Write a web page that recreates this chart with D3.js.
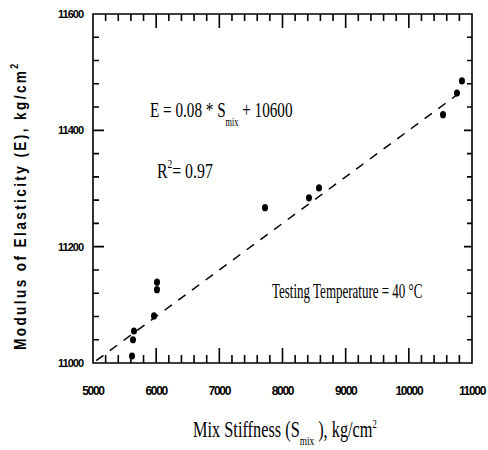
<!DOCTYPE html>
<html><head><meta charset="utf-8">
<script src="https://cdn.jsdelivr.net/npm/d3@7"></script>
<style>html,body{margin:0;padding:0;background:#fff}</style>
</head><body>
<svg id="c" width="488" height="450"></svg>
<script>
// Data
const stiffness = [5617, 5633, 5649, 5966, 6013, 6013, 7723, 8419, 8578, 10541, 10762, 10841];
const modulus   = [11012, 11040, 11055, 11081, 11126, 11139, 11267, 11284, 11301, 11427, 11464, 11485];
const xTicks = [5000, 6000, 7000, 8000, 9000, 10000, 11000];
const yTicks = [11000, 11200, 11400, 11600];
const fitSlope = 0.08, fitIntercept = 10600;
const fitRange = [5050, 10900];

const svg = d3.select("#c");
const x = d3.scaleLinear().domain([5000, 11000]).range([93, 472]);
const y = d3.scaleLinear().domain([11000, 11600]).range([363, 14]);

const xMinor = d3.range(5000, 11001, 200).filter(v => !xTicks.includes(v));
const yMinor = d3.range(11000, 11601, 40).filter(v => !yTicks.includes(v));

const X0 = x.range()[0], X1 = x.range()[1], Y0 = y.range()[0], Y1 = y.range()[1];

// frame and all inward ticks as one path
const p = d3.path();
p.rect(X0, Y1, X1 - X0, Y0 - Y1);
function addTicks(vals, horiz, base, len){
  vals.forEach(d => {
    if (horiz) { const px = x(d); p.moveTo(px, base); p.lineTo(px, base + len); }
    else { const py = y(d); p.moveTo(base, py); p.lineTo(base + len, py); }
  });
}
addTicks(xTicks, true, Y0, -15);
addTicks(xMinor, true, Y0, -8);
addTicks(xTicks, true, Y1, 14);
addTicks(xMinor, true, Y1, 7);
addTicks(yTicks, false, X0, 11);
addTicks(yMinor, false, X0, 6);
addTicks(yTicks, false, X1, -8);
addTicks(yMinor, false, X1, -5);
svg.append("path").attr("d", p.toString()).attr("fill","none")
  .attr("stroke","#000").attr("stroke-width",1.6);

// tick labels
svg.append("g").selectAll("text").data(xTicks).join("text")
  .attr("x", d => x(d)).attr("y", 395).attr("text-anchor","middle")
  .attr("font-family","Liberation Sans").attr("font-weight","bold").attr("font-size",12).attr("letter-spacing",-1.3)
  .text(d => d3.format("d")(d));
svg.append("g").selectAll("text").data(yTicks).join("text")
  .attr("x", 83).attr("y", d => y(d)+4).attr("text-anchor","end")
  .attr("font-family","Liberation Sans").attr("font-weight","bold").attr("font-size",11).attr("letter-spacing",-1)
  .text(d => d3.format("d")(d));

// fit line
svg.append("line")
  .attr("x1",x(fitRange[0])).attr("y1",y(fitSlope*fitRange[0]+fitIntercept))
  .attr("x2",x(fitRange[1])).attr("y2",y(fitSlope*fitRange[1]+fitIntercept))
  .attr("stroke","#000").attr("stroke-width",1.5).attr("stroke-dasharray","9,8");

// points
svg.append("g").selectAll("ellipse").data(stiffness).join("ellipse")
  .attr("cx",(d,i)=>x(d)).attr("cy",(d,i)=>y(modulus[i])).attr("rx",3).attr("ry",3.6).attr("fill","#000");

// annotations
const serif = "Liberation Serif";
const eq = svg.append("g").attr("transform","translate(150,117) scale(0.69,1)")
  .append("text").attr("font-family",serif).attr("font-size",22).attr("fill","#000");
eq.append("tspan").text("E = 0.08 * S");
eq.append("tspan").attr("font-size",12).attr("dy",9).text("mix");
eq.append("tspan").attr("dy",-9).text(" + 10600");

const r2 = svg.append("g").attr("transform","translate(157,178) scale(0.72,1)")
  .append("text").attr("font-family",serif).attr("font-size",22).attr("fill","#000");
r2.append("tspan").text("R");
r2.append("tspan").attr("font-size",13).attr("dy",-10).text("2");
r2.append("tspan").attr("dy",10).text("= 0.97");

svg.append("g").attr("transform","translate(272,298) scale(0.65,1)")
  .append("text").attr("font-family",serif).attr("font-size",20).attr("fill","#000")
  .text("Testing Temperature = 40 °C");

const xl = svg.append("g").attr("transform","translate(193,437) scale(0.71,1)")
  .append("text").attr("font-family",serif).attr("font-size",23).attr("fill","#000");
xl.append("tspan").text("Mix Stiffness (S");
xl.append("tspan").attr("font-size",13).attr("dy",8).text("mix");
xl.append("tspan").attr("dy",-8).text(" ), kg/cm");
xl.append("tspan").attr("font-size",12).attr("dy",-9).text("2");

const yl = svg.append("text").attr("transform","translate(26,350) rotate(-90) scale(0.8,1)")
  .attr("font-family","Liberation Sans").attr("font-weight","bold").attr("font-size",17)
  .attr("letter-spacing",3.0).attr("fill","#000");
yl.append("tspan").text("Modulus of Elasticity (E), kg/cm");
yl.append("tspan").attr("font-size",11).attr("dy",-8).text("2");
</script>
</body></html>
